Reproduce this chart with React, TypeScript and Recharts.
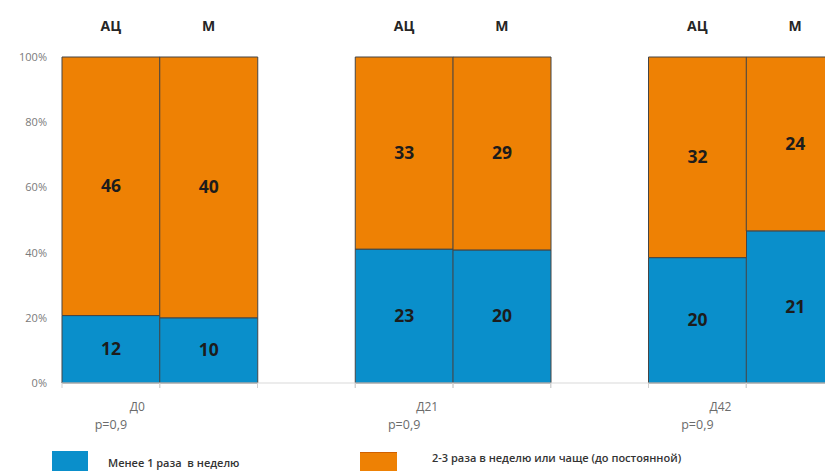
import { BarChart, Bar, XAxis, YAxis, LabelList } from "recharts";

// 8 category slots: two bars per visit, an empty slot between visits
const slots = ["АЦ", "М", "", "АЦ", "М", "", "АЦ", "М"];
const visits = ["Д0", "", "", "Д21", "", "", "Д42", ""];
const pLabels = ["р=0,9", "", "", "р=0,9", "", "", "р=0,9", ""];

const lessThanWeekly = [12, 10, null, 23, 20, null, 20, 21];
const twoThreeWeekly = [46, 40, null, 33, 29, null, 32, 24];

const seriesNames = ["Менее 1 раза  в неделю", "2-3 раза в неделю или чаще (до постоянной)"];
const COLORS = ["#0a8fcb", "#ee8104"];

const yTicks = [0, 0.2, 0.4, 0.6, 0.8, 1];

const data = slots.map((slot, i) => ({
  slot,
  visit: visits[i],
  p: pLabels[i],
  low: lessThanWeekly[i],
  high: twoThreeWeekly[i],
}));

const FONT = "'Open Sans', 'Liberation Sans', sans-serif";

function TopTick({ x, y, payload }: any) {
  return (
    <text x={x} y={y} dy={-18} textAnchor="middle" fontFamily={FONT} fontWeight={700} fontSize={14} fill="#262626">
      {payload.value}
    </text>
  );
}

function BottomTick({ x, y, payload, index }: any) {
  const half = payload.offset || 0;
  return (
    <g>
      <line x1={x - half} x2={x - half} y1={y - 8} y2={y - 3} stroke="#d0d0d0" />
      <line x1={x + half} x2={x + half} y1={y - 8} y2={y - 3} stroke="#d0d0d0" />
      {visits[index] && (
        <text x={x + 34} y={y + 20} textAnchor="end" fontFamily={FONT} fontSize={12} fill="#6b6b6b">
          {visits[index]}
        </text>
      )}
      {pLabels[index] && (
        <text x={x} y={y + 38} textAnchor="middle" fontFamily={FONT} fontSize={12.5} fill="#6b6b6b">
          {pLabels[index]}
        </text>
      )}
    </g>
  );
}

// value label in the middle of each stacked segment
function SegmentLabel(props: any) {
  const v = props.value;
  if (v == null || Array.isArray(v)) return null;
  const vb = props.viewBox || props;
  const cx = vb.x + vb.width / 2;
  const cy = vb.y + vb.height / 2;
  return (
    <text x={cx} y={cy} dy={6} textAnchor="middle" fontFamily={FONT} fontWeight={700} fontSize={17.5} fill="#1c1c1c">
      {v}
    </text>
  );
}

export default function App() {
  return (
    <div style={{ position: "relative", width: 825, height: 463, overflow: "hidden" }}>
      <BarChart
        width={860}
        height={463}
        data={data}
        stackOffset="expand"
        barCategoryGap={0}
        barGap={0}
        margin={{ top: 19, right: 24, bottom: 38, left: 0 }}
      >
        <XAxis
          xAxisId="top"
          orientation="top"
          dataKey="slot"
          height={30}
          axisLine={false}
          tickLine={false}
          tick={<TopTick />}
          interval={0}
        />
        <XAxis
          dataKey="visit"
          height={50}
          axisLine={{ stroke: "#d9d9d9" }}
          tickLine={false}
          tick={<BottomTick />}
          interval={0}
        />
        <YAxis
          width={54}
          domain={[0, 1]}
          ticks={yTicks}
          tickFormatter={(v: number) => `${Math.round(v * 100)}%`}
          axisLine={false}
          tickLine={false}
          tickSize={0}
          tickMargin={15}
          tick={{ fontFamily: FONT, fontSize: 11, fill: "#7a7a7a" }}
        />
        <Bar dataKey="low" name={seriesNames[0]} stackId="s" fill={COLORS[0]} stroke="#454545" strokeWidth={1} isAnimationActive={false}>
          <LabelList dataKey="low" content={<SegmentLabel />} />
        </Bar>
        <Bar dataKey="high" name={seriesNames[1]} stackId="s" fill={COLORS[1]} stroke="#454545" strokeWidth={1} isAnimationActive={false}>
          <LabelList dataKey="high" content={<SegmentLabel />} />
        </Bar>
      </BarChart>

      {/* legend */}
      <div style={{ position: "absolute", left: 44, top: 443, width: 36, height: 30, background: COLORS[0] }} />
      <div style={{ position: "absolute", left: 100, top: 447, whiteSpace: "pre", fontFamily: FONT, fontSize: 11, fontWeight: 600, color: "#333" }}>
        {seriesNames[0]}
      </div>
      <div style={{ position: "absolute", left: 352, top: 444, width: 37, height: 30, background: COLORS[1], borderTop: "1px solid #d06000" }} />
      <div style={{ position: "absolute", left: 424, top: 442, whiteSpace: "pre", fontFamily: FONT, fontSize: 11, fontWeight: 600, color: "#333" }}>
        {seriesNames[1]}
      </div>
    </div>
  );
}
